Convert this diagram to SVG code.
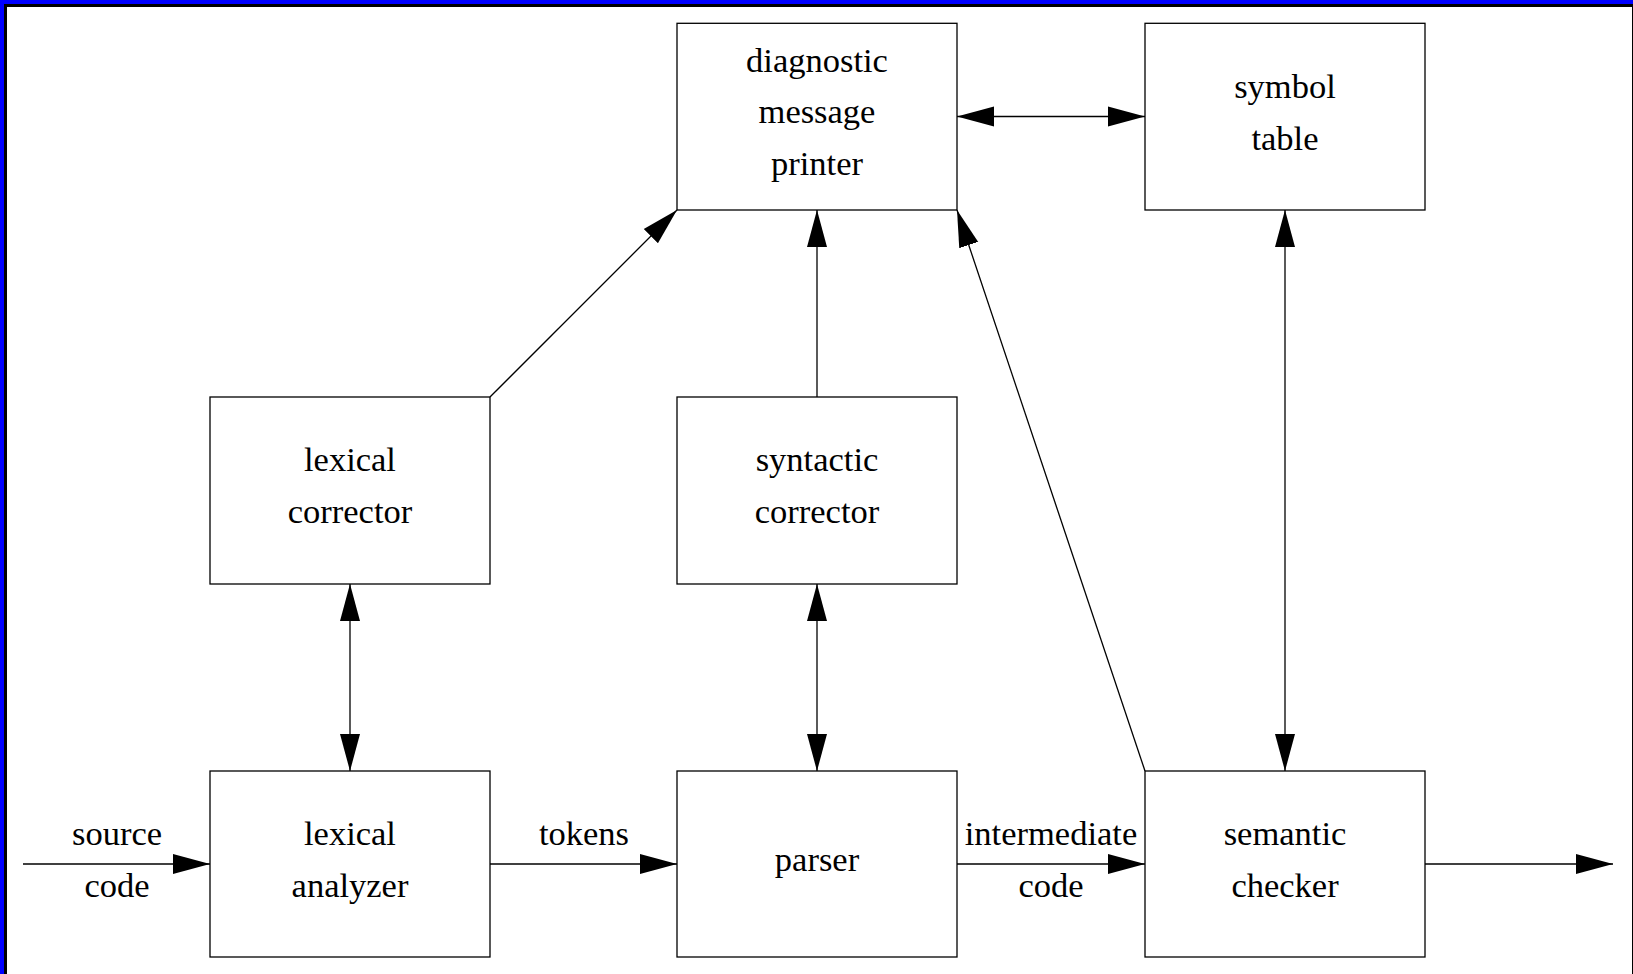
<svg xmlns="http://www.w3.org/2000/svg" width="1633" height="974" viewBox="0 0 1633 974">
<style>
.box{fill:#fff;stroke:#000;stroke-width:1.3}
.ln{fill:none;stroke:#000;stroke-width:1.3}
.a1{marker-end:url(#ah)}
.a2{marker-end:url(#ah);marker-start:url(#ah)}
text{font-family:"Liberation Serif","Times New Roman",serif;font-size:34.5px;fill:#000;text-anchor:middle}
</style>
<defs>
<marker id="ah" markerUnits="userSpaceOnUse" markerWidth="38" markerHeight="22" viewBox="0 0 38 22" refX="37" refY="11" orient="auto-start-reverse">
<path d="M0,1 L37,11 L0,21 z" fill="#000"/>
</marker>
</defs>
<rect x="0" y="0" width="1633" height="974" fill="#fff"/>
<g id="frame">
<rect x="0" y="0" width="1633" height="4" fill="#0000ff"/>
<rect x="0" y="0" width="4" height="974" fill="#0000ff"/>
<rect x="4" y="4" width="1629" height="3" fill="#000"/>
<rect x="4" y="4" width="3" height="970" fill="#000"/>
<rect x="1632" y="4" width="1" height="970" fill="#000"/>
</g>
<g id="connectors">
<line class="ln a1" x1="23" y1="864" x2="210" y2="864"/>
<line class="ln a1" x1="490" y1="864" x2="677" y2="864"/>
<line class="ln a1" x1="957" y1="864" x2="1145" y2="864"/>
<line class="ln a1" x1="1425" y1="864" x2="1613" y2="864"/>
<line class="ln a2" x1="350" y1="584" x2="350" y2="771"/>
<line class="ln a2" x1="817" y1="584" x2="817" y2="771"/>
<line class="ln a2" x1="1285" y1="210" x2="1285" y2="771"/>
<line class="ln a2" x1="957" y1="116.5" x2="1145" y2="116.5"/>
<line class="ln a1" x1="817" y1="397" x2="817" y2="210"/>
<line class="ln a1" x1="490" y1="397" x2="677" y2="210"/>
<line class="ln a1" x1="1145" y1="771" x2="957" y2="210"/>
</g>
<g id="labels">
<text x="117" y="845">source</text>
<text x="117" y="897">code</text>
<text x="584" y="845">tokens</text>
<text x="1051" y="845">intermediate</text>
<text x="1051" y="897">code</text>
</g>
<g id="diagnostic">
<rect class="box" x="677" y="23.3" width="280" height="186.7"/>
<text x="817" y="72">diagnostic</text>
<text x="817" y="123">message</text>
<text x="817" y="175">printer</text>
</g>
<g id="symbol-table">
<rect class="box" x="1145" y="23.3" width="280" height="186.7"/>
<text x="1285" y="97.5">symbol</text>
<text x="1285" y="149.5">table</text>
</g>
<g id="lexical-corrector">
<rect class="box" x="210" y="397" width="280" height="187"/>
<text x="350" y="471">lexical</text>
<text x="350" y="523">corrector</text>
</g>
<g id="syntactic-corrector">
<rect class="box" x="677" y="397" width="280" height="187"/>
<text x="817" y="471">syntactic</text>
<text x="817" y="523">corrector</text>
</g>
<g id="lexical-analyzer">
<rect class="box" x="210" y="771" width="280" height="186"/>
<text x="350" y="845">lexical</text>
<text x="350" y="897">analyzer</text>
</g>
<g id="parser">
<rect class="box" x="677" y="771" width="280" height="186"/>
<text x="817" y="871">parser</text>
</g>
<g id="semantic-checker">
<rect class="box" x="1145" y="771" width="280" height="186"/>
<text x="1285" y="845">semantic</text>
<text x="1285" y="897">checker</text>
</g>
</svg>
